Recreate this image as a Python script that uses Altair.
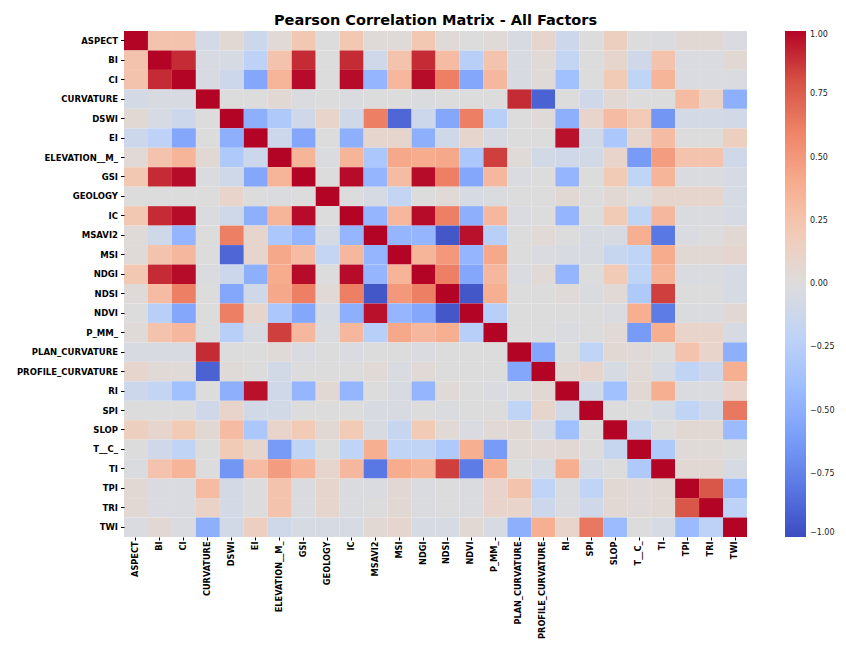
import altair as alt
import pandas as pd

factors = ["ASPECT", "BI", "CI", "CURVATURE", "DSWI", "EI", "ELEVATION__M_", "GSI",
           "GEOLOGY", "IC", "MSAVI2", "MSI", "NDGI", "NDSI", "NDVI", "P_MM_",
           "PLAN_CURVATURE", "PROFILE_CURVATURE", "RI", "SPI", "SLOP", "T__C_",
           "TI", "TPI", "TRI", "TWI"]

# Lower-triangle rows: correlation of each factor with the factors before it
r_BI = [0.25]
r_CI = [0.25, 0.9]
r_CURVATURE = [-0.07, -0.04, -0.04]
r_DSWI = [0.05, -0.05, -0.12, 0.0]
r_EI = [-0.12, -0.22, -0.55, 0.0, -0.5]
r_ELEVATION = [0.03, 0.25, 0.35, 0.05, -0.3, -0.12]
r_GSI = [0.22, 0.9, 0.98, -0.02, -0.1, -0.55, 0.35]
r_GEOLOGY = [0.0, 0.0, 0.0, 0.0, 0.1, 0.0, -0.02, 0.0]
r_IC = [0.22, 0.9, 0.98, -0.02, -0.1, -0.5, 0.35, 0.98, 0.0]
r_MSAVI2 = [0.02, -0.1, -0.45, 0.0, 0.62, 0.08, -0.32, -0.45, -0.05, -0.45]
r_MSI = [0.02, 0.25, 0.32, 0.0, -0.88, 0.08, 0.42, 0.3, -0.18, 0.32, -0.45]
r_NDGI = [0.22, 0.9, 0.98, -0.02, -0.12, -0.5, 0.4, 0.98, 0.0, 0.98, -0.45, 0.35]
r_NDSI = [0.02, 0.3, 0.62, 0.0, -0.55, -0.1, 0.42, 0.62, 0.03, 0.62, -0.95, 0.5, 0.62]
r_NDVI = [0.0, -0.25, -0.55, 0.0, 0.62, 0.08, -0.32, -0.55, -0.05, -0.5, 0.97, -0.45, -0.55, -0.95]
r_P_MM = [0.02, 0.25, 0.32, 0.0, -0.25, -0.04, 0.85, 0.32, -0.02, 0.32, -0.25, 0.42, 0.32, 0.38, -0.25]
r_PLAN = [-0.04, -0.04, -0.04, 0.9, 0.0, 0.0, 0.02, -0.03, 0.0, -0.03, 0.0, 0.0, -0.03, 0.0, 0.0, 0.0]
r_PROFILE = [0.08, 0.04, 0.02, -0.9, 0.02, 0.0, -0.08, 0.0, 0.0, 0.0, 0.04, -0.03, 0.04, 0.0, 0.0, 0.0, -0.55]
r_RI = [-0.12, -0.18, -0.38, 0.0, -0.5, 0.97, -0.1, -0.45, 0.05, -0.45, 0.0, -0.04, -0.45, 0.02, 0.0, -0.03, 0.0, 0.05]
r_SPI = [0.0, 0.0, 0.0, -0.1, 0.1, -0.08, -0.08, 0.0, 0.0, 0.0, -0.04, -0.04, 0.0, -0.02, 0.0, 0.0, -0.2, 0.08, -0.08]
r_SLOP = [0.15, 0.08, 0.2, 0.05, 0.3, -0.32, 0.1, 0.2, 0.05, 0.2, -0.04, -0.15, 0.2, 0.03, -0.03, 0.04, 0.05, -0.05, -0.38, 0.0]
r_T_C = [0.0, -0.1, -0.2, 0.0, 0.2, 0.08, -0.62, -0.2, 0.0, -0.2, 0.38, -0.2, -0.2, -0.3, 0.38, -0.62, 0.02, 0.03, 0.05, 0.0, -0.15]
r_TI = [-0.02, 0.25, 0.35, 0.0, -0.65, 0.3, 0.48, 0.35, 0.08, 0.32, -0.8, 0.4, 0.35, 0.85, -0.78, 0.38, 0.0, -0.05, 0.38, -0.05, 0.0, -0.3]
r_TPI = [0.05, -0.03, -0.03, 0.3, -0.07, 0.0, 0.25, -0.02, 0.08, -0.02, -0.03, 0.05, -0.03, 0.0, -0.02, 0.1, 0.25, -0.2, -0.02, -0.2, 0.05, 0.02, 0.05]
r_TRI = [0.05, -0.03, -0.03, 0.12, -0.07, 0.0, 0.25, -0.02, 0.08, -0.02, 0.0, 0.05, -0.02, 0.0, -0.02, 0.1, 0.1, -0.12, -0.02, -0.1, 0.05, 0.02, 0.05, 0.78]
r_TWI = [-0.03, 0.05, -0.03, -0.5, -0.08, 0.15, -0.1, -0.05, -0.05, -0.05, 0.05, 0.07, -0.05, -0.05, 0.05, -0.05, -0.5, 0.38, 0.1, 0.65, -0.42, 0.0, -0.05, -0.42, -0.22]

lower = [[], r_BI, r_CI, r_CURVATURE, r_DSWI, r_EI, r_ELEVATION, r_GSI, r_GEOLOGY,
         r_IC, r_MSAVI2, r_MSI, r_NDGI, r_NDSI, r_NDVI, r_P_MM, r_PLAN, r_PROFILE,
         r_RI, r_SPI, r_SLOP, r_T_C, r_TI, r_TPI, r_TRI, r_TWI]

cb_ticks = [1.0, 0.75, 0.5, 0.25, 0.0, -0.25, -0.5, -0.75, -1.0]
cmap_domain = [-1.0, -0.8, -0.6, -0.4, -0.2, 0.0, 0.2, 0.4, 0.6, 0.8, 1.0]
cmap_colors = ["#3b4cc0", "#5a78e4", "#7b9ff9", "#9ebeff", "#c0d4f5", "#dddcdc",
               "#f2cbb7", "#f7ac8e", "#ee8468", "#d65244", "#b40426"]

records = []
for i, rname in enumerate(factors):
    for j, cname in enumerate(factors):
        if i == j:
            v = 1.0
        elif j < i:
            v = lower[i][j]
        else:
            v = lower[j][i]
        records.append({"row": rname, "col": cname, "r": v})
df = pd.DataFrame(records)

FONT = "DejaVu Sans"

chart = alt.Chart(df).mark_rect().encode(
    x=alt.X("col:N", sort=factors, title=None,
            axis=alt.Axis(labelAngle=-90, labelAlign="right", labelBaseline="middle",
                          labelFont=FONT, labelFontWeight="bold", labelFontSize=8.2,
                          labelColor="#000000", tickSize=3, tickColor="#000000",
                          domain=False, labelPadding=1)),
    y=alt.Y("row:N", sort=factors, title=None,
            axis=alt.Axis(labelFont=FONT, labelFontWeight="bold", labelFontSize=8.5,
                          labelColor="#000000", tickSize=3.5, tickColor="#000000",
                          domain=False, labelPadding=3)),
    color=alt.Color("r:Q",
                    scale=alt.Scale(domain=cmap_domain, range=cmap_colors, interpolate="rgb"),
                    legend=alt.Legend(title=None, orient="none", legendX=661, legendY=0,
                                      direction="vertical",
                                      gradientLength=506, gradientThickness=21,
                                      gradientStrokeWidth=0, values=cb_ticks,
                                      format=".2f", labelFont=FONT, labelFontSize=8,
                                      labelColor="#222222", labelOverlap=False,
                                      labelOffset=4, padding=0)),
).properties(
    width=623, height=506,
    autosize=alt.AutoSizeParams(type="none"),
    padding={"left": 116, "top": 23, "right": 91, "bottom": 103},
    title=alt.Title("Pearson Correlation Matrix - All Factors", font=FONT,
                    fontSize=14.5, fontWeight="bold", color="#000000", offset=3,
                    frame="group"),
).configure_view(stroke=None)

chart.save("out.html", embed_options={"renderer": "svg", "actions": False})
